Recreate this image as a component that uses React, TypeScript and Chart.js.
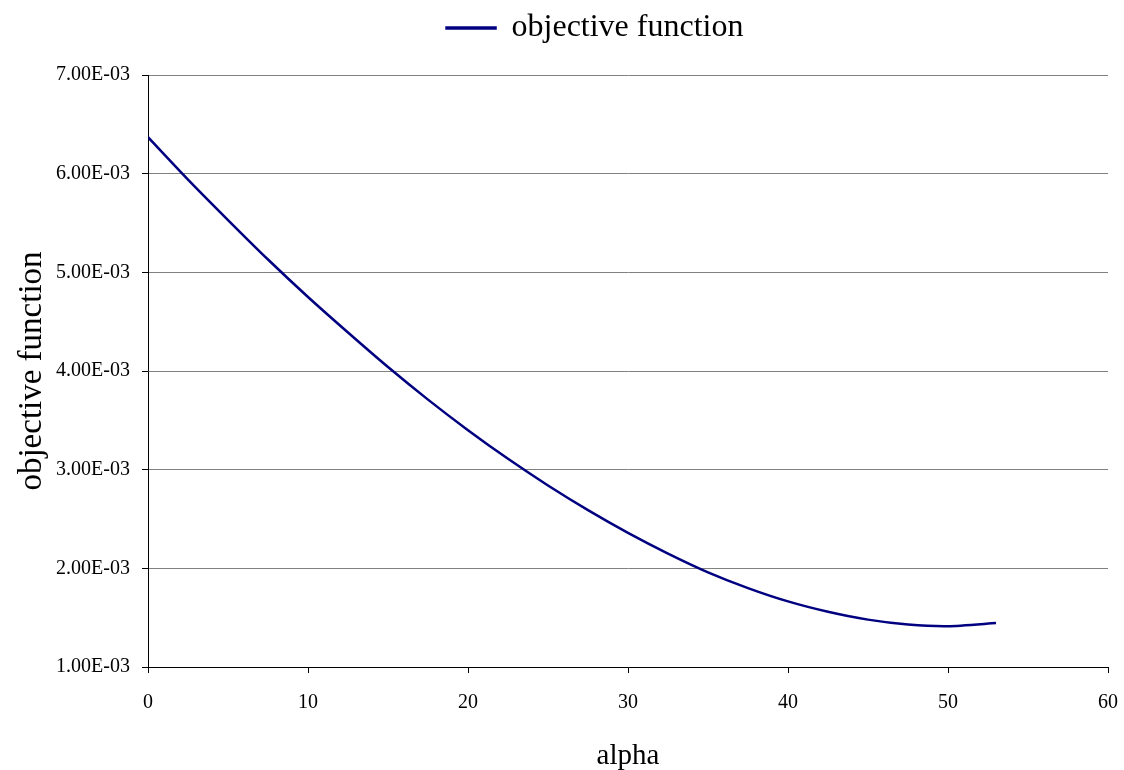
import React, { useEffect, useRef } from "react";
import { Chart, registerables } from "chart.js";

Chart.register(...registerables);

const alphaValues = [0, 2.5, 5, 7.5, 10, 12.5, 15, 17.5, 20, 22.5, 25, 27.5, 30, 32.5, 35, 37.5, 40, 42.5, 45, 47.5, 50, 53];
const objectiveValues = [
  0.00637, 0.00594, 0.00553, 0.00513, 0.00475, 0.00439, 0.00404, 0.00371, 0.0034, 0.00311, 0.00284,
  0.00259, 0.00236, 0.00215, 0.00196, 0.0018, 0.001665, 0.00156, 0.00148, 0.00143, 0.001413, 0.001445,
];
const xTickValues = [0, 10, 20, 30, 40, 50, 60];
const yTickValues = [0.001, 0.002, 0.003, 0.004, 0.005, 0.006, 0.007];

const seriesLabel = "objective function";
const xTitle = "alpha";
const yTitle = "objective function";

const FONT = "'Liberation Serif', 'Times New Roman', serif";

function formatSci(v: number): string {
  const s = v.toExponential(2).toUpperCase();
  const [m, e] = s.split("E");
  const neg = e.startsWith("-");
  const digits = e.replace(/[+-]/, "").padStart(2, "0");
  return `${m}E${neg ? "-" : "+"}${digits}`;
}

const legendTweak = {
  id: "legendTweak",
  afterInit(chart: any) {
    const legend = chart.legend;
    if (legend && !legend.__patched) {
      const orig = legend.fit.bind(legend);
      legend.fit = function () {
        orig();
        this.height += 21;
      };
      legend.__patched = true;
    }
  },
  afterLayout(chart: any) {
    const legend = chart.legend;
    if (legend) {
      legend.left += 41;
      legend.right += 41;
    }
  },
};

export default function App() {
  const ref = useRef<HTMLCanvasElement | null>(null);

  useEffect(() => {
    if (!ref.current) return;
    const chart = new Chart(ref.current, {
      type: "line",
      plugins: [legendTweak],
      data: {
        datasets: [
          {
            label: seriesLabel,
            data: alphaValues.map((x, i) => ({ x, y: objectiveValues[i] })),
            borderColor: "#000080",
            backgroundColor: "#000080",
            borderWidth: 2.5,
            pointRadius: 0,
            tension: 0.2,
          },
        ],
      },
      options: {
        animation: false,
        responsive: true,
        maintainAspectRatio: false,
        layout: { padding: { left: 0, right: 16, top: 0, bottom: 0 } },
        plugins: {
          tooltip: { enabled: false },
          legend: {
            display: true,
            position: "top",
            labels: {
              color: "#000",
              font: { family: FONT, size: 32 },
              boxWidth: 49,
              boxHeight: 1,
              padding: 12,
            },
          },
        },
        scales: {
          x: {
            type: "linear",
            min: 0,
            max: 60,
            afterBuildTicks: (axis: any) => {
              axis.ticks = xTickValues.map((v) => ({ value: v }));
            },
            afterFit: (axis: any) => {
              axis.height = 103;
              axis.paddingLeft = 0;
              axis.paddingRight = 0;
            },
            grid: {
              drawOnChartArea: false,
              drawTicks: true,
              tickLength: 6,
              tickColor: "#000",
              color: "#000",
            },
            border: { color: "#000", width: 1 },
            ticks: {
              color: "#000",
              font: { family: FONT, size: 20 },
              padding: 18,
              maxRotation: 0,
              callback: (v: any) => String(v),
            },
            title: {
              display: true,
              text: xTitle,
              color: "#000",
              font: { family: FONT, size: 29, lineHeight: 0.93 },
              padding: { top: 0, bottom: 0 },
            },
          },
          y: {
            type: "linear",
            min: 0.001,
            max: 0.007,
            afterBuildTicks: (axis: any) => {
              axis.ticks = yTickValues.map((v) => ({ value: v }));
            },
            afterFit: (axis: any) => {
              axis.width = 148;
            },
            grid: {
              drawOnChartArea: true,
              drawTicks: true,
              tickLength: 6,
              color: "#808080",
              tickColor: "#000",
              lineWidth: 1,
            },
            border: { color: "#000", width: 1 },
            ticks: {
              color: "#000",
              font: { family: FONT, size: 20 },
              padding: 12,
              callback: (v: any) => formatSci(Number(v)),
            },
            title: {
              display: true,
              text: yTitle,
              color: "#000",
              font: { family: FONT, size: 33, lineHeight: 1 },
              padding: { top: 16, bottom: 0 },
            },
          },
        },
      },
    });
    return () => chart.destroy();
  }, []);

  return (
    <div style={{ position: "absolute", left: 0, top: 0, width: 1124, height: 770, background: "#fff" }}>
      <canvas ref={ref} />
    </div>
  );
}
